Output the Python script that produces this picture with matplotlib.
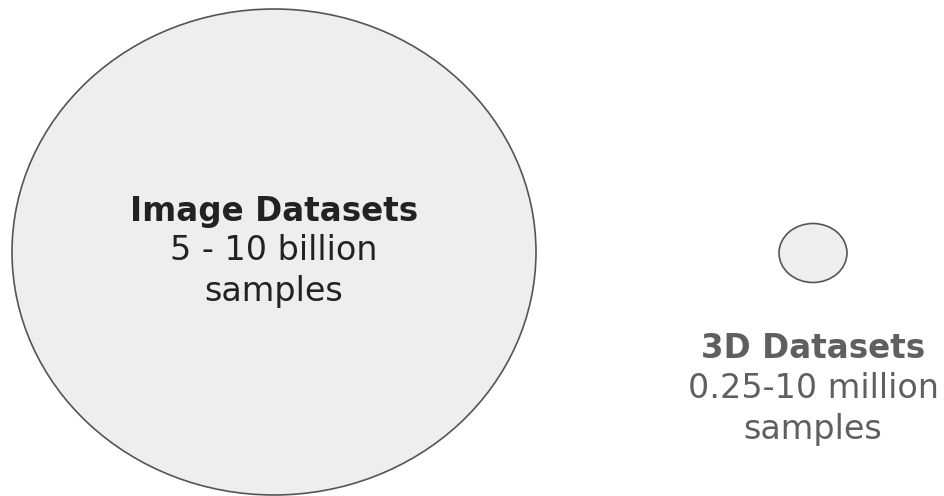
import matplotlib
matplotlib.use("Agg")
import matplotlib.pyplot as plt
from matplotlib.patches import Ellipse

# Data
titles = ["Image Datasets", "3D Datasets"]
ranges = ["5 - 10 billion", "0.25-10 million"]
units = ["samples", "samples"]

# Geometry (pixels, figure coordinates with y downward)
centers = [(274, 252), (813, 253)]
half_sizes = [(262, 243), (34, 29.5)]
text_y = [211, 349]
text_colors = ["#222222", "#5f5f5f"]

fig = plt.figure(figsize=(9.45, 4.96), dpi=100)
ax = fig.add_axes([0, 0, 1, 1])
ax.set_xlim(0, 945)
ax.set_ylim(496, 0)
ax.axis("off")

for (cx, cy), (hw, hh) in zip(centers, half_sizes):
    ax.add_patch(Ellipse((cx, cy), 2 * hw, 2 * hh, facecolor="#eeeeee",
                         edgecolor="#555555", linewidth=1.2))

fam = ["DejaVu Sans"]
for i in range(2):
    cx = centers[i][0]
    y0 = text_y[i]
    ax.text(cx, y0, titles[i], ha="center", va="center", fontsize=23.5,
            fontweight="bold", color=text_colors[i], family=fam)
    ax.text(cx, y0 + 40, ranges[i], ha="center", va="center", fontsize=24,
            color=text_colors[i], family=fam)
    ax.text(cx, y0 + 80, units[i], ha="center", va="center", fontsize=24,
            color=text_colors[i], family=fam)

fig.savefig("out.png", dpi=100)
